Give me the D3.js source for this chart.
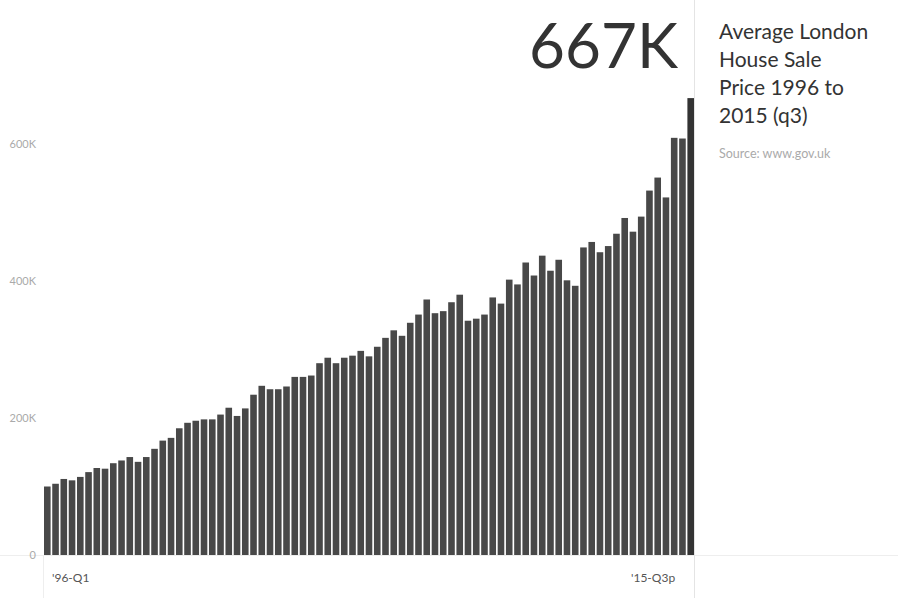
<!DOCTYPE html>
<html>
<head>
<meta charset="utf-8">
<script src="https://cdn.jsdelivr.net/npm/d3@7"></script>
<style>
  body { margin: 0; background: #fff; font-family: Lato, "Open Sans", sans-serif; }
</style>
</head>
<body>
<svg width="898" height="598"></svg>
<script>
// average price in thousands, 1996 Q1 .. 2015 Q3 (provisional)
const quarterLabels = ["'96-Q1", "'15-Q3p"];
const prices = [
  100, 104, 111, 109, 114, 121, 127, 126, 134, 138,
  143, 136, 143, 155, 167, 171, 185, 193, 196, 198,
  198, 205, 215, 203, 214, 234, 247, 242, 242, 246,
  260, 260, 262, 280, 288, 280, 288, 291, 298, 290,
  304, 317, 328, 320, 339, 351, 373, 353, 356, 369,
  380, 342, 345, 351, 376, 367, 402, 395, 427, 408,
  437, 415, 431, 401, 393, 449, 457, 442, 451, 469,
  492, 472, 494, 532, 551, 522, 609, 608, 667
];
const yTicks = [0, 200, 400, 600];

const svg = d3.select("svg");
const left = 44, right = 694, bottom = 555;

const x = d3.scaleBand()
    .domain(d3.range(prices.length))
    .range([left, right])
    .paddingInner(0.2)
    .paddingOuter(0);
const y = d3.scaleLinear().domain([0, 600]).range([bottom, 144]);

// gridline + frame lines
svg.append("line").attr("x1", 0).attr("x2", 898).attr("y1", bottom + 0.5).attr("y2", bottom + 0.5)
    .attr("stroke", "#eee");
svg.append("line").attr("x1", left - 0.5).attr("x2", left - 0.5).attr("y1", bottom).attr("y2", 598)
    .attr("stroke", "#eee");
svg.append("line").attr("x1", right + 0.5).attr("x2", right + 0.5).attr("y1", 0).attr("y2", 598)
    .attr("stroke", "#e4e4e4");

svg.append("g").selectAll("text")
    .data(yTicks)
    .enter().append("text")
    .attr("x", 36)
    .attr("y", d => y(d) + 4)
    .attr("text-anchor", "end")
    .attr("font-size", 11)
    .attr("fill", "#aaa")
    .text(d => d === 0 ? "0" : d + "K");

svg.append("g").selectAll("rect")
    .data(prices)
    .enter().append("rect")
    .attr("x", (d, i) => x(i))
    .attr("width", x.bandwidth())
    .attr("y", d => y(d))
    .attr("height", d => bottom - y(d))
    .attr("fill", (d, i) => i === prices.length - 1 ? "#333" : "#484848");

svg.append("text").attr("x", 52).attr("y", 582).attr("font-size", 12).attr("fill", "#555")
    .text(quarterLabels[0]);
svg.append("text").attr("x", 631).attr("y", 582).attr("font-size", 12).attr("fill", "#555")
    .text(quarterLabels[1]);

svg.append("text").attr("x", 678).attr("y", 68).attr("text-anchor", "end")
    .attr("font-size", 62).attr("fill", "#333")
    .text(d3.format(".0f")(prices[prices.length - 1]) + "K");

const title = ["Average London", "House Sale", "Price 1996 to", "2015 (q3)"];
svg.append("g").selectAll("text")
    .data(title)
    .enter().append("text")
    .attr("x", 719)
    .attr("y", (d, i) => 39 + i * 28)
    .attr("font-size", 21)
    .attr("fill", "#333")
    .text(d => d);

svg.append("text").attr("x", 719).attr("y", 158).attr("font-size", 12.5).attr("fill", "#aaa")
    .text("Source: www.gov.uk");
</script>
</body>
</html>
